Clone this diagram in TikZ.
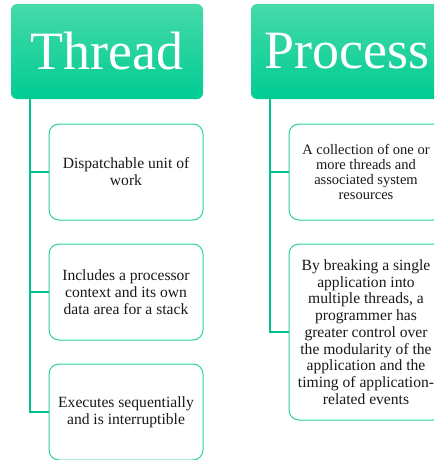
\documentclass[tikz,border=0pt]{standalone}
\usepackage{fontspec}
\setmainfont{Liberation Serif}
\definecolor{hdtop}{RGB}{70,218,170}
\definecolor{hdbot}{RGB}{0,204,146}
\definecolor{linkc}{RGB}{0,194,142}
\definecolor{edgec}{RGB}{40,210,160}
\definecolor{txtc}{RGB}{25,25,25}
\tikzset{
  header/.style={rounded corners=6pt, top color=hdtop, bottom color=hdbot,
    draw=none, minimum width=192pt, minimum height=95pt, inner sep=0pt,
    text=white, font=\fontsize{54}{58}\selectfont},
  item/.style={rounded corners=10pt, draw=edgec, line width=1pt, fill=white,
    minimum width=154pt, minimum height=96pt, inner sep=2pt, align=center,
    text=txtc, font=\fontsize{15.6}{17}\selectfont},
  link/.style={draw=linkc, line width=1.4pt}
}
\begin{document}
\begin{tikzpicture}[x=1pt,y=-1pt]
  \useasboundingbox (0,0) rectangle (434,460);
  \clip (0,0) rectangle (434,460);

  % column headers
  \node[header] (th) at (107,51.5) {Thread};
  \node[header] (ph) at (347,51.5) {Process};

  % trunk start points below the headers
  \coordinate (tl) at (30,99);
  \coordinate (pl) at (270,99);

  % Thread items
  \node[item] (t1) at (126,172) {Dispatchable unit of\\work};
  \node[item] (t2) at (126,292) {Includes a processor\\context and its own\\data area for a stack};
  \node[item] (t3) at (126,412) {Executes sequentially\\and is interruptible};

  % Process items
  \node[item, font=\fontsize{14.5}{15.3}\selectfont] (p1) at (366,172)
    {A collection of one or\\more threads and\\associated system\\resources};
  \node[item, minimum height=176pt, font=\fontsize{15.6}{16.7}\selectfont] (p2) at (366,332)
    {By breaking a single\\application into\\multiple threads, a\\programmer has\\greater control over\\the modularity of the\\application and the\\timing of application-\\related events};

  % connectors
  \draw[link] (tl) |- (t1.west);
  \draw[link] (tl) |- (t2.west);
  \draw[link] (tl) |- (t3.west);
  \draw[link] (pl) |- (p1.west);
  \draw[link] (pl) |- (p2.west);
\end{tikzpicture}
\end{document}
